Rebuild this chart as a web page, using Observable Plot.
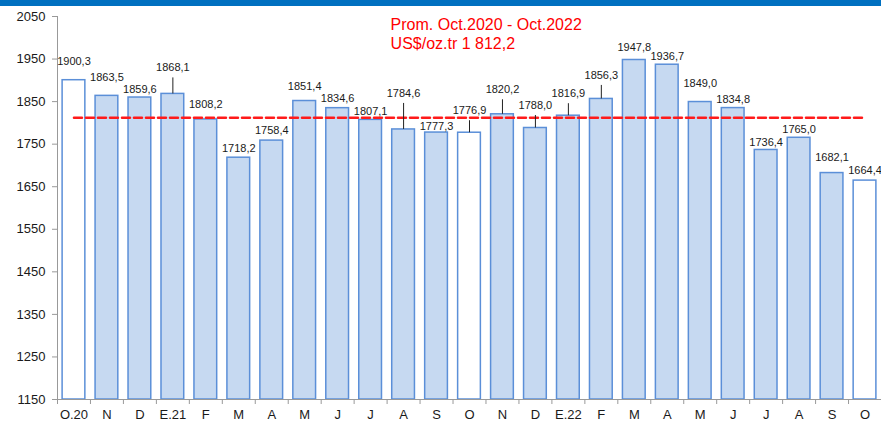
<!DOCTYPE html>
<html><head><meta charset="utf-8">
<script src="https://cdn.jsdelivr.net/npm/d3@7"></script>
<script src="https://cdn.jsdelivr.net/npm/@observablehq/plot@0.6"></script>
<style>
body{margin:0;background:#fff;font-family:"Liberation Sans",Arial,sans-serif}
#band{height:6px;background:#0070c0;width:881px}
</style>
</head><body><div id="band"></div><div id="chart"></div>
<script>
// ---- data ----
const months = ["O.20","N","D","E.21","F","M","A","M","J","J","A","S","O","N","D","E.22","F","M","A","M","J","J","A","S","O"];
const prices = [1900.3,1863.5,1859.6,1868.1,1808.2,1718.2,1758.4,1851.4,1834.6,1807.1,1784.6,1777.3,1776.9,1820.2,1788.0,1816.9,1856.3,1947.8,1936.7,1849.0,1834.8,1736.4,1765.0,1682.1,1664.4];
const hollowBars = [0, 12, 24];
const average = 1812.2;
const yTicks = [1150,1250,1350,1450,1550,1650,1750,1850,1950,2050];
const noteText = "Prom. Oct.2020 - Oct.2022\nUS$/oz.tr 1 812,2";

// ---- layout (label nudges in px, leader-line bars) ----
const labelLift = [19,18,8,26,15,9,10,14.5,10,8,36,6.5,22,24.5,22.5,22,23.5,13,8,19,8.6,7,8,16,10];
const leaderBars = [3,10,12,13,14,15,16];

const W = 881, H = 415, mT = 10, mB = 22, mL = 57, mR = 0;
const yMin = 1150, yMax = 2050;
const pxPerUnit = (H - mT - mB) / (yMax - yMin);
const step = (W - mL - mR) / months.length;

const rows = months.map((m, i) => ({i, m, v: prices[i], hollow: hollowBars.includes(i)}));
const fmt = v => v.toFixed(1).replace(".", ",");

const chart = Plot.plot({
  width: W, height: H,
  marginTop: mT, marginBottom: mB, marginLeft: mL, marginRight: mR,
  style: {fontFamily: '"Liberation Sans", Arial, sans-serif', fontSize: "13px", color: "#1a1a1a", background: "white", overflow: "visible"},
  x: {type: "band", domain: d3.range(months.length), paddingInner: 0.31, paddingOuter: 0.155, round: false, label: null},
  y: {domain: [yMin, yMax], label: null},
  marks: [
    Plot.barY(rows.filter(d => !d.hollow), {x: "i", y1: yMin, y2: "v", fill: "#c6d9f1", stroke: "#5b8fd8", strokeWidth: 1.5}),
    Plot.barY(rows.filter(d => d.hollow), {x: "i", y1: yMin, y2: "v", fill: "white", stroke: "#5b8fd8", strokeWidth: 1.5}),
    Plot.ruleY([yMin], {stroke: "#999", strokeWidth: 1}),
    Plot.ruleX([0], {x: d => d, y1: yMin, y2: yMax, dx: -step / 2, stroke: "#999", strokeWidth: 1}),
    Plot.ruleX(d3.range(months.length), {x: d => d, y1: yMin, y2: yMin - 5 / pxPerUnit, dx: -step / 2, stroke: "#999", strokeWidth: 1}),
    Plot.axisY({ticks: yTicks, tickSize: 5, tickPadding: 7, tickFormat: d => String(d), stroke: "#999", fill: "#1a1a1a", fontSize: 13, label: null}),
    Plot.axisX({tickSize: 0, tickPadding: 10, tickFormat: i => months[i], fill: "#1a1a1a", fontSize: 13, label: null}),
    Plot.line([0, months.length - 1], {x: d => d, y: () => average, stroke: "#ff1a1a", strokeWidth: 2.5, strokeDasharray: "8,4"}),
    Plot.ruleX(leaderBars, {x: d => d, y1: d => prices[d], y2: d => prices[d] + (labelLift[d] - 10) / pxPerUnit, stroke: "#222", strokeWidth: 1}),
    ...rows.map(d => Plot.text([d], {x: "i", y: "v", text: r => fmt(r.v), dy: -labelLift[d.i], fontSize: 11, fill: "#1a1a1a"})),
    Plot.text([noteText], {x: () => 10, y: () => yMax, text: d => d, textAnchor: "start", lineAnchor: "top", dx: -13, lineHeight: 1.2, fontSize: 16, fill: "#ff0000"})
  ]
});
document.getElementById("chart").append(chart);
</script>
</body></html>
